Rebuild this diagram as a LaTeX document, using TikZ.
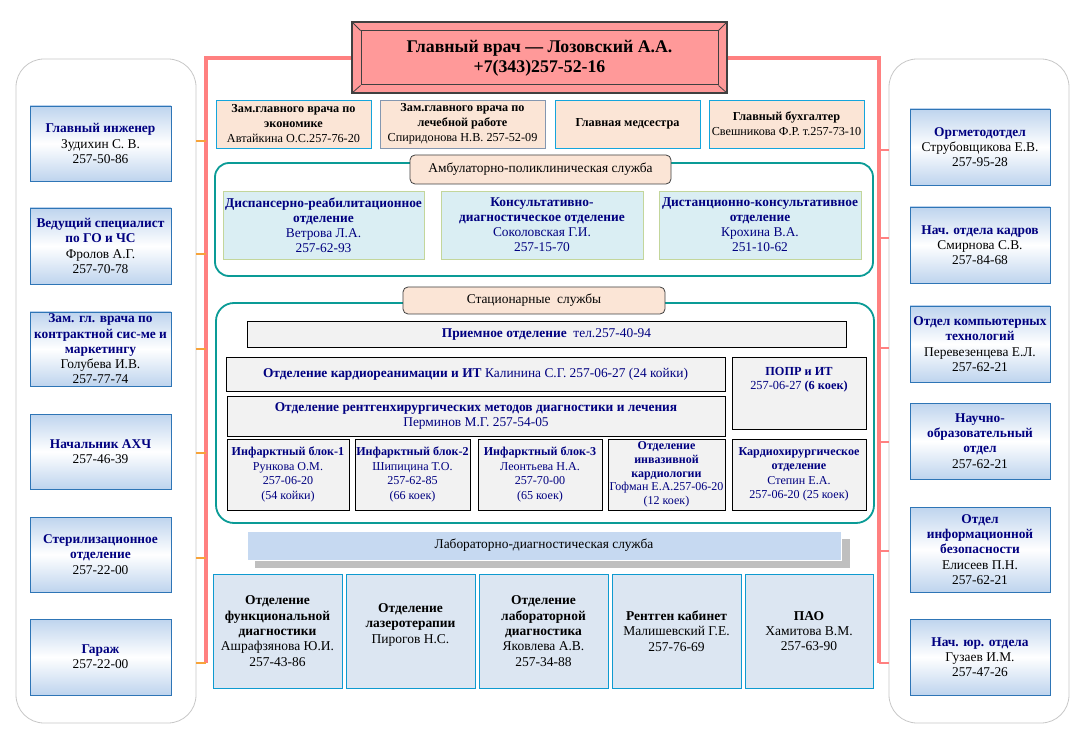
\documentclass[tikz,border=0pt]{standalone}
\usepackage{fontspec}
\setmainfont{Liberation Serif}
\definecolor{tnavy}{RGB}{0,0,128}
\definecolor{lblue}{RGB}{190,212,238}
\definecolor{lbord}{RGB}{46,117,182}
\definecolor{peach}{RGB}{251,229,214}
\definecolor{cyanb}{RGB}{20,165,220}
\definecolor{grayb}{RGB}{132,151,176}
\definecolor{ambfill}{RGB}{218,238,243}
\definecolor{ambbord}{RGB}{195,214,155}
\definecolor{tealc}{RGB}{10,155,150}
\definecolor{stfill}{RGB}{242,242,242}
\definecolor{labfill}{RGB}{220,230,242}
\definecolor{labbord}{RGB}{14,154,208}
\definecolor{labbarc}{RGB}{198,217,241}
\definecolor{shadowg}{RGB}{191,191,191}
\definecolor{hdrpink}{RGB}{255,153,153}
\definecolor{pinkc}{RGB}{255,128,128}
\definecolor{orangec}{RGB}{247,163,58}
\definecolor{darkg}{RGB}{64,64,64}
\definecolor{panelg}{RGB}{200,200,200}
\newcommand\myfs[2]{\fontsize{#1}{#2}\selectfont}
\newcommand\ttl[1]{\textcolor{tnavy}{\textbf{#1}}}
\newcommand\mybox[7]{\node[#6, minimum width={(#4)-(#2)}, minimum height={(#5)-(#3)}] (#1) at ({((#2)+(#4))/2},{((#3)+(#5))/2}) {#7};}
\begin{document}
\begin{tikzpicture}[x=1pt,y=-1pt,
  box/.style={inner sep=0pt, align=center, anchor=center},
  lrbox/.style={box, draw=lbord, line width=0.8pt, top color=lblue, bottom color=lblue, middle color=white, font=\myfs{13.4}{15.3}},
  topbox/.style={box, fill=peach, draw=cyanb, line width=0.8pt, font=\myfs{12.2}{15}},
  ambbox/.style={box, fill=ambfill, draw=ambbord, line width=0.8pt, font=\myfs{13.4}{15}, text=tnavy},
  stbox/.style={box, fill=stfill, draw=black, line width=0.8pt, font=\myfs{13.4}{15}, text=tnavy},
  stsmall/.style={stbox, font=\myfs{12.1}{14.5}},
  labbox/.style={box, fill=labfill, draw=labbord, line width=0.8pt, font=\myfs{13.5}{15.3}},
  labbar/.style={box, fill=labbarc, draw=white, line width=0.8pt, font=\myfs{13.4}{15}},
  labsh/.style={box, fill=shadowg},
  sect/.style={box, draw=tealc, line width=1.8pt, rounded corners=14pt},
  seclabel/.style={box, fill=peach, draw=darkg, line width=0.8pt, rounded corners=5pt, font=\myfs{13.4}{15}},
  panel/.style={box, draw=panelg, line width=0.8pt, rounded corners=28pt},
  hdrout/.style={box, fill=hdrpink, draw=darkg, line width=1.2pt},
  hdrin/.style={box, draw=darkg, line width=1pt, font=\myfs{17.8}{20}\bfseries},
  pinkl/.style={draw=pinkc, line width=3.5pt},
  otick/.style={draw=orangec, line width=2pt},
  ptick/.style={draw=pinkc, line width=2.2pt}]
\useasboundingbox[fill=white] (0,0) rectangle (1088,738);

% side panels
\mybox{lp}{16}{59}{196}{723}{panel}{}
\mybox{rp}{889}{59}{1069}{723}{panel}{}

% header
\mybox{hdr}{352}{22}{727}{93}{hdrout}{}
\mybox{hdi}{361}{31}{718}{85}{hdrin}{Главный врач — Лозовский А.А.\\+7(343)257-52-16}
\draw[darkg, line width=0.8pt] (hdr.north west) -- (hdi.north west) (hdr.north east) -- (hdi.north east)
  (hdr.south west) -- (hdi.south west) (hdr.south east) -- (hdi.south east);

% main connector lines
\coordinate (lc) at (206,663);
\coordinate (rc) at (879,663);
\draw[pinkl] (hdr.west |- 0,58) -| (lc);
\draw[pinkl] (hdr.east |- 0,58) -| (rc);
\foreach \yy in {141,254,349,453,558,663} \draw[otick] (lp.east |- 0,\yy) -- (lc |- 0,\yy);
\foreach \yy in {150,238,348,442,551,663} \draw[ptick] (rc |- 0,\yy) -- (rp.west |- 0,\yy);

% top row
\mybox{z1}{216}{100}{371}{148}{topbox}{\textbf{Зам.главного врача по}\\\textbf{экономике}\\Автайкина О.С.257-76-20}
\mybox{z2}{380}{100}{545}{148}{topbox,draw=grayb}{\textbf{Зам.главного врача по}\\\textbf{лечебной работе}\\Спиридонова Н.В. 257-52-09}
\mybox{z3}{555}{100}{700}{148}{topbox}{\textbf{Главная медсестра}}
\mybox{z4}{709}{100}{864}{148}{topbox}{\textbf{Главный бухгалтер}\\Свешникова Ф.Р. т.257-73-10}

% ambulatory
\mybox{amb}{215}{163}{873}{276}{sect}{}
\mybox{ambl}{410}{155}{671}{184}{seclabel}{Амбулаторно-поликлиническая служба}
\mybox{a1}{223}{191}{424}{259}{ambbox}{\textbf{Диспансерно-реабилитационное}\\\textbf{отделение}\\Ветрова Л.А.\\257-62-93}
\mybox{a2}{441}{191}{643}{259}{ambbox}{\textbf{Консультативно-}\\\textbf{диагностическое отделение}\\Соколовская Г.И.\\257-15-70}
\mybox{a3}{659}{191}{861}{259}{ambbox}{\textbf{Дистанционно-консультативное}\\\textbf{отделение}\\Крохина В.А.\\251-10-62}

% stationary
\mybox{st}{216}{303}{874}{523}{sect,rounded corners=18pt}{}
\mybox{stl}{403}{287}{665}{314}{seclabel}{Стационарные\ \ службы}
\mybox{s0}{247}{321}{846}{347}{stbox}{\textbf{Приемное отделение}\ \ тел.257-40-94}
\mybox{s1}{226}{357}{725}{391}{stbox}{\textbf{Отделение кардиореанимации и ИТ} Калинина С.Г. 257-06-27 (24 койки)}
\mybox{s2}{732}{357}{866}{429}{stsmall,font=\myfs{12.3}{14.5}}{\textbf{ПОПР и ИТ}\\257-06-27 \textbf{(6 коек)}\\\mbox{}\\\mbox{}}
\mybox{s3}{227}{396}{725}{436}{stbox}{\textbf{Отделение рентгенхирургических методов диагностики и лечения}\\Перминов М.Г. 257-54-05}
\mybox{b1}{227}{439}{349}{510}{stsmall}{\textbf{Инфарктный блок-1}\\Рункова О.М.\\257-06-20\\(54 койки)}
\mybox{b2}{355}{439}{470}{510}{stsmall}{\textbf{Инфарктный блок-2}\\Шипицина Т.О.\\257-62-85\\(66 коек)}
\mybox{b3}{478}{439}{602}{510}{stsmall}{\textbf{Инфарктный блок-3}\\Леонтьева Н.А.\\257-70-00\\(65 коек)}
\mybox{b4}{608}{439}{725}{510}{stsmall,font=\myfs{12}{13.8}}{\textbf{Отделение}\\\textbf{инвазивной}\\\textbf{кардиологии}\\Гофман Е.А.257-06-20\\(12 коек)}
\mybox{b5}{732}{439}{866}{510}{stsmall}{\textbf{Кардиохирургическое}\\\textbf{отделение}\\Степин Е.А.\\257-06-20 (25 коек)}

% laboratory
\mybox{labs}{255}{539}{850}{568}{labsh}{}
\mybox{lab}{247}{531}{841}{560}{labbar}{Лабораторно-диагностическая служба}
\mybox{l1}{213}{574}{342}{688}{labbox}{\textbf{Отделение}\\\textbf{функциональной}\\\textbf{диагностики}\\Ашрафзянова Ю.И.\\257-43-86}
\mybox{l2}{346}{574}{475}{688}{labbox}{\textbf{Отделение}\\\textbf{лазеротерапии}\\Пирогов Н.С.\\\mbox{}}
\mybox{l3}{479}{574}{608}{688}{labbox}{\textbf{Отделение}\\\textbf{лабораторной}\\\textbf{диагностика}\\Яковлева А.В.\\257-34-88}
\mybox{l4}{612}{574}{741}{688}{labbox}{\textbf{Рентген кабинет}\\Малишевский Г.Е.\\257-76-69}
\mybox{l5}{745}{574}{873}{688}{labbox}{\textbf{ПАО}\\Хамитова В.М.\\257-63-90}

% left boxes
\mybox{L1}{30}{106}{171}{181}{lrbox}{\ttl{Главный инженер}\\Зудихин С. В.\\257-50-86}
\mybox{L2}{30}{208}{171}{284}{lrbox}{\ttl{Ведущий специалист}\\\ttl{по ГО и ЧС}\\Фролов А.Г.\\257-70-78}
\mybox{L3}{30}{312}{171}{386}{lrbox}{\ttl{Зам. гл. врача по}\\\ttl{контрактной сис-ме и}\\\ttl{маркетингу}\\Голубева И.В.\\257-77-74}
\mybox{L4}{30}{414}{171}{489}{lrbox}{\ttl{Начальник АХЧ}\\257-46-39}
\mybox{L5}{30}{517}{171}{592}{lrbox}{\ttl{Стерилизационное}\\\ttl{отделение}\\257-22-00}
\mybox{L6}{30}{619}{171}{695}{lrbox}{\ttl{Гараж}\\257-22-00}

% right boxes
\mybox{R1}{910}{109}{1050}{185}{lrbox}{\ttl{Оргметодотдел}\\Струбовщикова Е.В.\\257-95-28}
\mybox{R2}{910}{207}{1050}{283}{lrbox}{\ttl{Нач. отдела кадров}\\Смирнова С.В.\\257-84-68}
\mybox{R3}{910}{306}{1050}{382}{lrbox}{\ttl{Отдел компьютерных}\\\ttl{технологий}\\Перевезенцева Е.Л.\\257-62-21}
\mybox{R4}{910}{403}{1050}{479}{lrbox}{\ttl{Научно-}\\\ttl{образовательный}\\\ttl{отдел}\\257-62-21}
\mybox{R5}{910}{507}{1050}{592}{lrbox}{\ttl{Отдел}\\\ttl{информационной}\\\ttl{безопасности}\\Елисеев П.Н.\\257-62-21}
\mybox{R6}{910}{619}{1050}{695}{lrbox}{\ttl{Нач. юр. отдела}\\Гузаев И.М.\\257-47-26}
\end{tikzpicture}
\end{document}
